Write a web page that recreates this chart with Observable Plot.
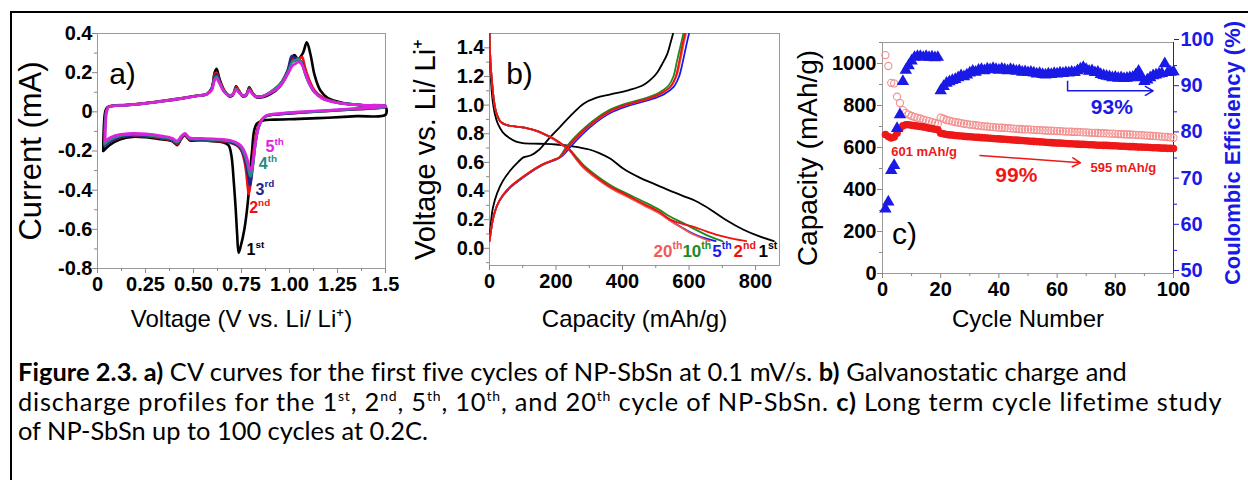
<!DOCTYPE html>
<html><head><meta charset="utf-8">
<script src="https://cdn.jsdelivr.net/npm/d3@7"></script>
<script src="https://cdn.jsdelivr.net/npm/@observablehq/plot@0.6"></script>
<style>
body{margin:0;background:#fff;}
#wrap{position:relative;width:1248px;height:480px;overflow:hidden;background:#fff;}
.panel{position:absolute;top:0;}
#border{position:absolute;left:10px;top:11px;width:1300px;height:600px;border-left:2px solid #000;border-top:2px solid #000;}
#caption{position:absolute;left:18px;top:357px;font-family:Lato,"Open Sans",sans-serif;font-size:25.4px;line-height:29.5px;white-space:nowrap;color:#000;}
#caption sup{font-size:14px;line-height:0;vertical-align:10px;}
#caption .l1{letter-spacing:0.06px;}
#caption .l2{letter-spacing:0.82px;}
</style></head>
<body>
<div id="wrap">
<div id="border"></div>
<div id="pa" class="panel" style="left:0px"></div>
<div id="pb" class="panel" style="left:400px"></div>
<div id="pc" class="panel" style="left:790px"></div>
<div id="caption"><span class="l1"><b>Figure 2.3. a)</b> CV curves for the first five cycles of NP-SbSn at 0.1 mV/s. <b>b)</b> Galvanostatic charge and</span><br><span class="l2">discharge profiles for the 1<sup>st</sup>, 2<sup>nd</sup>, 5<sup>th</sup>, 10<sup>th</sup>, and 20<sup>th</sup> cycle of NP-SbSn. <b>c)</b> Long term cycle lifetime study</span><br><span>of NP-SbSn up to 100 cycles at 0.2C.</span></div>
</div>
<script>
// ---------- Panel a: CV curves [voltage, current] ----------
const cv1 = [[0.03,-0.2],[0.032,-0.1],[0.04,0.0],[0.05,0.022],[0.08,0.03],[0.15,0.034],[0.25,0.043],[0.35,0.055],[0.45,0.07],[0.52,0.082],[0.57,0.09],[0.595,0.12],[0.61,0.2],[0.62,0.22],[0.635,0.17],[0.66,0.11],[0.685,0.08],[0.705,0.085],[0.722,0.13],[0.735,0.11],[0.755,0.08],[0.775,0.085],[0.79,0.125],[0.805,0.1],[0.825,0.075],[0.86,0.075],[0.9,0.09],[0.95,0.13],[0.99,0.2],[1.01,0.27],[1.025,0.29],[1.045,0.27],[1.07,0.3],[1.09,0.355],[1.11,0.29],[1.13,0.19],[1.16,0.11],[1.2,0.07],[1.28,0.045],[1.38,0.032],[1.5,0.025],
 [1.5,-0.015],[1.35,-0.022],[1.2,-0.03],[1.05,-0.036],[0.92,-0.04],[0.86,-0.045],[0.83,-0.06],[0.815,-0.1],[0.805,-0.2],[0.795,-0.3],[0.785,-0.44],[0.765,-0.6],[0.745,-0.69],[0.735,-0.72],[0.727,-0.62],[0.72,-0.5],[0.71,-0.36],[0.697,-0.22],[0.682,-0.17],[0.65,-0.155],[0.6,-0.15],[0.54,-0.145],[0.48,-0.145],[0.455,-0.12],[0.435,-0.14],[0.415,-0.17],[0.39,-0.15],[0.33,-0.14],[0.25,-0.13],[0.18,-0.128],[0.12,-0.14],[0.07,-0.165],[0.03,-0.2]];
const cv2 = [[0.035,-0.17],[0.038,-0.08],[0.045,0.0],[0.055,0.025],[0.08,0.032],[0.15,0.036],[0.25,0.045],[0.35,0.058],[0.45,0.072],[0.52,0.083],[0.57,0.092],[0.595,0.12],[0.61,0.19],[0.62,0.2],[0.635,0.16],[0.66,0.11],[0.685,0.085],[0.705,0.09],[0.722,0.125],[0.735,0.11],[0.755,0.085],[0.775,0.09],[0.79,0.12],[0.805,0.1],[0.825,0.08],[0.86,0.08],[0.9,0.1],[0.95,0.14],[0.99,0.21],[1.01,0.26],[1.03,0.275],[1.05,0.27],[1.065,0.28],[1.08,0.23],[1.1,0.17],[1.13,0.11],[1.17,0.075],[1.25,0.048],[1.38,0.035],[1.5,0.03],
 [1.5,0.025],[1.35,0.014],[1.2,0.005],[1.05,-0.005],[0.95,-0.012],[0.88,-0.022],[0.855,-0.04],[0.835,-0.08],[0.82,-0.15],[0.805,-0.28],[0.795,-0.38],[0.788,-0.42],[0.782,-0.38],[0.775,-0.31],[0.765,-0.25],[0.75,-0.2],[0.73,-0.175],[0.7,-0.16],[0.65,-0.15],[0.6,-0.148],[0.54,-0.145],[0.48,-0.142],[0.455,-0.118],[0.435,-0.138],[0.415,-0.165],[0.39,-0.148],[0.33,-0.135],[0.25,-0.125],[0.18,-0.122],[0.12,-0.13],[0.07,-0.15],[0.035,-0.17]];
const cv3 = [[0.035,-0.175],[0.038,-0.08],[0.045,0.0],[0.055,0.024],[0.08,0.031],[0.15,0.035],[0.25,0.044],[0.35,0.057],[0.45,0.071],[0.52,0.082],[0.57,0.091],[0.595,0.12],[0.61,0.18],[0.62,0.19],[0.635,0.155],[0.66,0.105],[0.685,0.083],[0.705,0.088],[0.722,0.12],[0.735,0.105],[0.755,0.083],[0.775,0.088],[0.79,0.115],[0.805,0.097],[0.825,0.078],[0.86,0.08],[0.9,0.1],[0.95,0.14],[0.99,0.21],[1.012,0.285],[1.028,0.275],[1.045,0.265],[1.062,0.255],[1.08,0.2],[1.1,0.15],[1.13,0.1],[1.17,0.07],[1.25,0.047],[1.38,0.034],[1.5,0.03],
 [1.5,0.025],[1.35,0.014],[1.2,0.005],[1.05,-0.004],[0.95,-0.012],[0.88,-0.022],[0.857,-0.04],[0.838,-0.08],[0.824,-0.15],[0.81,-0.27],[0.8,-0.35],[0.795,-0.375],[0.788,-0.345],[0.778,-0.29],[0.766,-0.235],[0.75,-0.195],[0.73,-0.172],[0.7,-0.158],[0.65,-0.148],[0.6,-0.145],[0.54,-0.142],[0.48,-0.14],[0.455,-0.116],[0.435,-0.135],[0.415,-0.16],[0.39,-0.145],[0.33,-0.132],[0.25,-0.122],[0.18,-0.12],[0.12,-0.128],[0.07,-0.148],[0.035,-0.175]];
const cv4 = [[0.037,-0.165],[0.04,-0.08],[0.046,0.0],[0.056,0.024],[0.08,0.031],[0.15,0.035],[0.25,0.044],[0.35,0.057],[0.45,0.071],[0.52,0.082],[0.57,0.091],[0.595,0.115],[0.61,0.17],[0.62,0.18],[0.635,0.15],[0.66,0.105],[0.685,0.083],[0.705,0.088],[0.722,0.118],[0.735,0.103],[0.755,0.083],[0.775,0.088],[0.79,0.113],[0.805,0.096],[0.825,0.078],[0.86,0.08],[0.9,0.1],[0.95,0.14],[0.99,0.2],[1.015,0.255],[1.03,0.26],[1.045,0.27],[1.06,0.255],[1.08,0.2],[1.1,0.15],[1.13,0.1],[1.17,0.07],[1.25,0.047],[1.38,0.034],[1.5,0.03],
 [1.5,0.026],[1.35,0.016],[1.2,0.006],[1.05,-0.002],[0.95,-0.01],[0.88,-0.02],[0.858,-0.038],[0.84,-0.078],[0.825,-0.145],[0.812,-0.25],[0.803,-0.31],[0.797,-0.33],[0.79,-0.31],[0.78,-0.265],[0.767,-0.22],[0.75,-0.185],[0.73,-0.165],[0.7,-0.152],[0.65,-0.145],[0.6,-0.142],[0.54,-0.139],[0.48,-0.137],[0.455,-0.113],[0.435,-0.131],[0.415,-0.155],[0.39,-0.14],[0.33,-0.128],[0.25,-0.118],[0.18,-0.116],[0.12,-0.122],[0.07,-0.14],[0.037,-0.165]];
const cv5 = [[0.04,-0.15],[0.042,-0.07],[0.048,0.0],[0.058,0.024],[0.08,0.03],[0.15,0.034],[0.25,0.043],[0.35,0.056],[0.45,0.07],[0.52,0.081],[0.57,0.09],[0.595,0.11],[0.61,0.16],[0.62,0.17],[0.635,0.145],[0.66,0.1],[0.685,0.082],[0.705,0.087],[0.722,0.112],[0.735,0.1],[0.755,0.082],[0.775,0.086],[0.79,0.108],[0.805,0.094],[0.825,0.077],[0.86,0.078],[0.9,0.095],[0.95,0.13],[0.99,0.19],[1.015,0.235],[1.03,0.245],[1.048,0.255],[1.065,0.24],[1.085,0.19],[1.105,0.14],[1.135,0.095],[1.17,0.068],[1.25,0.046],[1.38,0.034],[1.5,0.03],
 [1.5,0.028],[1.35,0.018],[1.2,0.008],[1.05,0.0],[0.95,-0.008],[0.88,-0.018],[0.86,-0.035],[0.84,-0.075],[0.826,-0.14],[0.813,-0.23],[0.803,-0.29],[0.798,-0.3],[0.79,-0.28],[0.78,-0.24],[0.765,-0.2],[0.745,-0.17],[0.72,-0.155],[0.69,-0.145],[0.65,-0.14],[0.6,-0.138],[0.54,-0.135],[0.48,-0.132],[0.455,-0.11],[0.435,-0.126],[0.415,-0.148],[0.39,-0.135],[0.33,-0.122],[0.25,-0.112],[0.18,-0.11],[0.12,-0.115],[0.07,-0.13],[0.04,-0.15]];
const cvSeries = [
  {name: "1st", color: "#000000", data: cv1},
  {name: "2nd", color: "#ee1111", data: cv2},
  {name: "3rd", color: "#22248e", data: cv3},
  {name: "4th", color: "#2a8a80", data: cv4},
  {name: "5th", color: "#e020e0", data: cv5}
];
const cvLabels = [
  {n: "5", s: "th", v: 0.875, i: -0.18, color: "#e020e0"},
  {n: "4", s: "th", v: 0.84, i: -0.268, color: "#2a8a80"},
  {n: "3", s: "rd", v: 0.823, i: -0.396, color: "#22248e"},
  {n: "2", s: "nd", v: 0.79, i: -0.49, color: "#ee1111"},
  {n: "1", s: "st", v: 0.776, i: -0.707, color: "#000000"}
];
const xTicksA = [0, 0.25, 0.5, 0.75, 1, 1.25, 1.5];
const xLabelsA = ["0", "0.25", "0.50", "0.75", "1.00", "1.25", "1.5"];
const xMinorA = [0.125, 0.375, 0.625, 0.875, 1.125, 1.375];
const yTicksA = [-0.8, -0.6, -0.4, -0.2, 0, 0.2, 0.4];
const yLabelsA = ["-0.8", "-0.6", "-0.4", "-0.2", "0", "0.2", "0.4"];
const yMinorA = [-0.7, -0.5, -0.3, -0.1, 0.1, 0.3];

// ---------- Panel b: galvanostatic profiles [capacity, voltage] ----------
const gc1Dis = [[0,1.5],[2,1.3],[5,1.15],[10,1.02],[16,0.94],[25,0.87],[40,0.81],[60,0.77],[80,0.745],[100,0.735],[150,0.73],[200,0.725],[250,0.712],[300,0.69],[330,0.665],[364,0.625],[403,0.555],[450,0.495],[500,0.445],[535,0.41],[583,0.365],[620,0.33],[665,0.27],[710,0.2],[764,0.13],[810,0.085],[855,0.05]];
const gc1Chg = [[0,0.07],[3,0.15],[10,0.28],[23,0.385],[40,0.47],[63,0.545],[85,0.6],[102,0.635],[125,0.65],[150,0.69],[180,0.77],[213,0.85],[250,0.94],[283,1.01],[320,1.05],[364,1.075],[420,1.105],[463,1.14],[490,1.19],[505,1.23],[520,1.29],[535,1.36],[545,1.44],[552,1.5]];
const gc2Dis = [[0,1.5],[3,1.3],[8,1.15],[14,1.02],[20,0.95],[33,0.885],[50,0.862],[80,0.85],[114,0.838],[140,0.822],[163,0.8],[190,0.77],[213,0.735],[240,0.69],[264,0.62],[283,0.57],[320,0.5],[364,0.43],[410,0.375],[464,0.31],[510,0.255],[544,0.2],[580,0.17],[614,0.15],[650,0.12],[690,0.09],[730,0.068],[772,0.05]];
const gc2Chg = [[0,0.05],[3,0.1],[10,0.2],[23,0.3],[40,0.37],[63,0.43],[90,0.48],[114,0.52],[140,0.56],[163,0.59],[190,0.615],[210,0.635],[222,0.665],[234,0.705],[260,0.77],[294,0.845],[330,0.91],[364,0.96],[415,1.005],[470,1.04],[514,1.08],[544,1.13],[560,1.2],[570,1.3],[580,1.42],[588,1.5]];
const gc5Dis = [[0,1.5],[3,1.3],[8,1.15],[14,1.02],[20,0.95],[33,0.885],[50,0.862],[80,0.85],[114,0.838],[140,0.82],[163,0.797],[190,0.765],[213,0.73],[240,0.685],[264,0.615],[283,0.565],[320,0.495],[364,0.425],[410,0.37],[464,0.305],[510,0.25],[544,0.195],[575,0.15],[605,0.11],[635,0.08],[660,0.062],[680,0.05]];
const gc5Chg = [[0,0.05],[3,0.1],[10,0.2],[23,0.3],[40,0.365],[63,0.425],[90,0.475],[114,0.515],[140,0.555],[163,0.585],[190,0.61],[210,0.63],[225,0.66],[240,0.7],[268,0.77],[302,0.845],[338,0.91],[372,0.955],[423,1.0],[478,1.035],[524,1.075],[553,1.125],[570,1.2],[581,1.3],[592,1.42],[600,1.5]];
const gc10Dis = [[0,1.5],[3,1.3],[8,1.15],[14,1.02],[20,0.95],[33,0.885],[50,0.862],[80,0.85],[114,0.838],[140,0.822],[163,0.8],[190,0.77],[213,0.735],[240,0.692],[264,0.63],[283,0.58],[320,0.51],[364,0.44],[410,0.385],[464,0.325],[510,0.27],[544,0.22],[580,0.18],[620,0.13],[660,0.085],[700,0.05]];
const gc10Chg = [[0,0.05],[3,0.1],[10,0.2],[23,0.3],[40,0.37],[63,0.43],[90,0.48],[114,0.52],[140,0.56],[163,0.59],[190,0.615],[210,0.637],[220,0.668],[231,0.708],[256,0.775],[290,0.85],[326,0.915],[360,0.965],[410,1.01],[465,1.045],[508,1.085],[538,1.135],[553,1.2],[563,1.3],[575,1.42],[583,1.5]];
const gc20Dis = [[0,1.5],[3,1.3],[8,1.15],[14,1.02],[20,0.95],[33,0.885],[50,0.862],[80,0.85],[114,0.838],[140,0.82],[163,0.798],[190,0.766],[213,0.73],[240,0.685],[264,0.612],[283,0.56],[320,0.49],[364,0.42],[410,0.365],[464,0.3],[510,0.245],[544,0.19],[580,0.14],[610,0.1],[640,0.07],[662,0.05]];
const gc20Chg = [[0,0.05],[3,0.1],[10,0.2],[23,0.3],[40,0.37],[63,0.43],[90,0.48],[114,0.52],[140,0.56],[163,0.59],[190,0.615],[210,0.635],[223,0.665],[235,0.705],[262,0.77],[296,0.845],[332,0.91],[366,0.96],[417,1.005],[472,1.04],[516,1.08],[546,1.13],[562,1.2],[573,1.3],[583,1.42],[591,1.5]];
const gcSeries = [
  {name: "1st", color: "#000000", dis: gc1Dis, chg: gc1Chg},
  {name: "5th", color: "#1a1aee", dis: gc5Dis, chg: gc5Chg},
  {name: "10th", color: "#1e8a1e", dis: gc10Dis, chg: gc10Chg},
  {name: "20th", color: "#f25a4a", dis: gc20Dis, chg: gc20Chg},
  {name: "2nd", color: "#ee1111", dis: gc2Dis, chg: gc2Chg}
];
const gcLabels = [
  {n: "20", s: "th", cap: 493, v: -0.02, color: "#f25a5a"},
  {n: "10", s: "th", cap: 580, v: -0.02, color: "#1e8a1e"},
  {n: "5", s: "th", cap: 670, v: -0.02, color: "#1a1aee"},
  {n: "2", s: "nd", cap: 734, v: -0.02, color: "#ee1111"},
  {n: "1", s: "st", cap: 809, v: -0.02, color: "#000000"}
];
const xTicksB = [0, 200, 400, 600, 800];
const xMinorB = [100, 300, 500, 700];
const yTicksB = [0, 0.2, 0.4, 0.6, 0.8, 1.0, 1.2, 1.4];
const yLabelsB = ["0.0", "0.2", "0.4", "0.6", "0.8", "1.0", "1.2", "1.4"];
const yMinorB = [-0.1, 0.1, 0.3, 0.5, 0.7, 0.9, 1.1, 1.3];

// ---------- Panel c: cycling (cycle 1..100) ----------
const capOpen = [1040,988,908,905,842,812,778,765,757,750,746,741,738,733,729,726,721,717,713,742,737,731,728,724,721,719,716,713,711,709,708,706,704,702,701,700,698,697,696,695,694,693,692,691,690,689,688,687,686,686,685,684,683,683,682,681,680,680,679,678,678,677,676,676,675,674,674,673,672,672,671,670,670,669,668,668,667,666,666,665,664,664,663,662,662,661,660,659,659,658,657,656,655,654,653,652,651,650,648,646];
const capFill = [662,652,645,650,668,690,703,708,708,706,704,702,700,698,695,692,690,687,684,668,665,662,660,659,657,656,655,653,652,651,650,649,648,647,646,645,644,643,642,641,640,639,638,637,636,635,634,633,632,631,630,629,628,627,626,625,624,623,622,621,621,620,619,618,618,617,616,615,615,614,613,613,612,611,611,610,610,609,608,608,607,606,606,605,604,604,603,602,602,601,601,600,599,599,598,597,597,596,596,595];
const ceff = [64,65.5,72.3,73.4,81.4,84.4,91.6,94,95,96,96.8,97,97,96.8,97,96.8,96.9,96.7,96.8,89.6,90.5,91.2,91.5,91.8,92,92.4,92.8,92.6,93,93.4,93.8,93.6,94,94.2,93.9,94.3,94.1,94.4,94.2,94,94.3,94.1,93.9,94.2,94,93.8,93.9,93.6,93.7,93.5,93.6,93.4,93.2,93.3,93.1,93,93.2,93.1,93.3,93.2,93.4,93.3,93.5,93.4,93.6,93.5,93.9,94.3,94.6,94.2,93.8,93.9,93.5,93.6,93.1,92.9,92.7,92.6,92.4,92.5,92.3,92.4,92.2,92.3,92.4,92.5,93,93.8,92.4,91.6,91.9,92.4,92.8,93,93.2,93.3,95.4,93.5,93.6,93.7];
const cycles = capOpen.map((_, k) => k + 1);
const xTicksC = [0, 20, 40, 60, 80, 100];
const xMinorC = [10, 30, 50, 70, 90];
const yTicksC = [0, 200, 400, 600, 800, 1000];
const yMinorC = [100, 300, 500, 700, 900, 1100];
const ceTicks = [50, 60, 70, 80, 90, 100];
const ceMinor = [55, 65, 75, 85, 95];
const capMax = 1100;                 // left axis top
const ceMin = 50, ceMax = 100;       // right axis range
const toCap = ce => (ce - ceMin) / (ceMax - ceMin) * capMax;
const redArrow = [{c1: 33.5, y1: 562, c2: 68, y2: 527}];
const blueBracketV = [{c1: 63.6, y1: 918, c2: 63.6, y2: 870}];
const blueArrow = [{c1: 63.6, y1: 870, c2: 93, y2: 870}];

const FONT = "'Liberation Sans', Arial, Helvetica, sans-serif";
const svgNS = "http://www.w3.org/2000/svg";
function supify(svg, sz) {
  svg.querySelectorAll("g.ord text").forEach(t => {
    const parts = t.textContent.split("|");
    t.textContent = parts[0];
    const ts = document.createElementNS(svgNS, "tspan");
    ts.setAttribute("dy", -sz * 0.45);
    ts.setAttribute("font-size", sz * 0.62);
    ts.textContent = parts[1];
    t.appendChild(ts);
  });
}
const pick = (ticks, labels) => d => labels[ticks.indexOf(d)];
const baseStyle = {fontFamily: FONT, background: "transparent", color: "#000", overflow: "visible"};

// ---------- Panel a ----------
const plotA = Plot.plot({
  width: 400, height: 345, marginLeft: 97, marginRight: 15, marginTop: 33, marginBottom: 77,
  style: baseStyle,
  x: {domain: [0, 1.5], label: null},
  y: {domain: [-0.8, 0.4], label: null},
  marks: [
    Plot.frame({stroke: "#9a9a9a"}),
    Plot.axisX(xMinorA, {tickSize: 3, tickFormat: () => "", stroke: "#888"}),
    Plot.axisX(xTicksA, {tickSize: 5, tickPadding: 3, tickFormat: pick(xTicksA, xLabelsA), fontSize: 20, fontWeight: "bold", stroke: "#888", label: null}),
    Plot.axisY(yMinorA, {tickSize: 3, tickFormat: () => "", stroke: "#888"}),
    Plot.axisY(yTicksA, {tickSize: 5, tickPadding: 0, tickFormat: pick(yTicksA, yLabelsA), fontSize: 20, fontWeight: "bold", stroke: "#888", label: null}),
    ...cvSeries.map(s => Plot.line(s.data, {x: d => d[0], y: d => d[1], stroke: s.color, strokeWidth: 2.6, curve: "catmull-rom"})),
    Plot.text(cvLabels, {x: "v", y: "i", text: d => d.n + "|" + d.s, fill: "color", fontSize: 16, fontWeight: "bold", textAnchor: "start", className: "ord"}),
    Plot.text(["a)"], {frameAnchor: "top-left", dx: 25, dy: 29, fontSize: 30, textAnchor: "middle", text: d => d}),
    Plot.text(["Voltage (V vs. Li/ Li⁺)"], {frameAnchor: "bottom", dy: 58, fontSize: 24, textAnchor: "middle", text: d => d}),
    Plot.text(["Current (mA)"], {frameAnchor: "left", dx: -66, rotate: -90, fontSize: 31, textAnchor: "middle", text: d => d})
  ]
});
supify(plotA, 16);
document.getElementById("pa").appendChild(plotA);

// ---------- Panel b ----------
const plotB = Plot.plot({
  width: 400, height: 345, marginLeft: 89, marginRight: 21, marginTop: 33, marginBottom: 80,
  style: baseStyle,
  x: {domain: [0, 872], label: null},
  y: {domain: [-0.12, 1.5], label: null},
  marks: [
    Plot.frame({stroke: "#9a9a9a"}),
    Plot.axisX(xMinorB, {tickSize: 3, tickFormat: () => "", stroke: "#888"}),
    Plot.axisX(xTicksB, {tickSize: 5, tickPadding: 3, tickFormat: d => String(d), fontSize: 20, fontWeight: "bold", stroke: "#888", label: null}),
    Plot.axisY(yMinorB, {tickSize: 3, tickFormat: () => "", stroke: "#888"}),
    Plot.axisY(yTicksB, {tickSize: 5, tickPadding: 0, tickFormat: pick(yTicksB, yLabelsB), fontSize: 20, fontWeight: "bold", stroke: "#888", label: null}),
    ...gcSeries.flatMap(s => [
      Plot.line(s.dis, {x: d => d[0], y: d => d[1], stroke: s.color, strokeWidth: 1.8, curve: "catmull-rom", clip: true}),
      Plot.line(s.chg, {x: d => d[0], y: d => d[1], stroke: s.color, strokeWidth: 1.8, curve: "catmull-rom", clip: true})
    ]),
    Plot.text(gcLabels, {x: "cap", y: "v", text: d => d.n + "|" + d.s, fill: "color", fontSize: 17, fontWeight: "bold", textAnchor: "start", className: "ord"}),
    Plot.text(["b)"], {frameAnchor: "top-left", dx: 30, dy: 29, fontSize: 30, textAnchor: "middle", text: d => d}),
    Plot.text(["Capacity (mAh/g)"], {frameAnchor: "bottom", dy: 61, fontSize: 24, textAnchor: "middle", text: d => d}),
    Plot.text(["Voltage vs. Li/ Li⁺"], {frameAnchor: "left", dx: -64, rotate: -90, fontSize: 29, textAnchor: "middle", text: d => d})
  ]
});
supify(plotB, 17);
document.getElementById("pb").appendChild(plotB);

// ---------- Panel c ----------
const cyc = cycles.map((c, k) => ({cycle: c, open: capOpen[k], fill: capFill[k], ce: ceff[k]}));
const BLUE = "#1a1ae6", RED = "#ee1818";
const plotC = Plot.plot({
  width: 458, height: 345, marginLeft: 92, marginRight: 75, marginTop: 42, marginBottom: 72,
  style: baseStyle,
  x: {domain: [0, 100], label: null},
  y: {domain: [0, capMax], label: null},
  marks: [
    Plot.frame({stroke: "#9a9a9a"}),
    Plot.ruleX([100], {stroke: BLUE, strokeWidth: 1}),
    Plot.axisX(xMinorC, {tickSize: 3, tickFormat: () => "", stroke: "#888"}),
    Plot.axisX(xTicksC, {tickSize: 5, tickPadding: 3, tickFormat: d => String(d), fontSize: 20, fontWeight: "bold", stroke: "#888", label: null}),
    Plot.axisY(yMinorC, {tickSize: 3, tickFormat: () => "", stroke: "#888"}),
    Plot.axisY(yTicksC, {tickSize: 5, tickPadding: 1, tickFormat: d => String(d), fontSize: 20, fontWeight: "bold", stroke: "#888", label: null}),
    Plot.axisY(ceMinor.map(toCap), {anchor: "right", tickSize: 3, tickFormat: () => "", color: BLUE}),
    Plot.axisY(ceTicks.map(toCap), {anchor: "right", tickSize: 5, tickPadding: 2, dy: -3, tickFormat: d => String(Math.round(d / capMax * (ceMax - ceMin) + ceMin)), fontSize: 20, fontWeight: "bold", color: BLUE, label: null}),
    Plot.dot(cyc, {x: "cycle", y: "open", r: 3.6, stroke: "#f29090", strokeWidth: 1.1, fill: "none"}),
    Plot.dot(cyc, {x: "cycle", y: "fill", r: 3.8, fill: RED, stroke: "none"}),
    Plot.dot(cyc, {x: "cycle", y: d => toCap(d.ce), r: 4.6, symbol: "triangle", fill: BLUE, stroke: "none"}),
    Plot.arrow(redArrow, {x1: "c1", y1: "y1", x2: "c2", y2: "y2", stroke: RED, strokeWidth: 1.5, headLength: 9}),
    Plot.link(blueBracketV, {x1: "c1", y1: "y1", x2: "c2", y2: "y2", stroke: BLUE, strokeWidth: 1.5}),
    Plot.arrow(blueArrow, {x1: "c1", y1: "y1", x2: "c2", y2: "y2", stroke: BLUE, strokeWidth: 1.5, headLength: 9}),
    Plot.text([{t: "601 mAh/g", c: 3, y: 578}], {x: "c", y: "y", text: "t", fill: RED, fontSize: 13, fontWeight: "bold", textAnchor: "start"}),
    Plot.text([{t: "595 mAh/g", c: 71.5, y: 505}], {x: "c", y: "y", text: "t", fill: RED, fontSize: 13, fontWeight: "bold", textAnchor: "start"}),
    Plot.text([{t: "99%", c: 46, y: 467}], {x: "c", y: "y", text: "t", fill: RED, fontSize: 21, fontWeight: "bold"}),
    Plot.text([{t: "93%", c: 78.8, y: 790}], {x: "c", y: "y", text: "t", fill: BLUE, fontSize: 21, fontWeight: "bold"}),
    Plot.text(["c)"], {frameAnchor: "bottom-left", dx: 22, dy: -30, fontSize: 30, textAnchor: "middle", text: d => d}),
    Plot.text(["Cycle Number"], {frameAnchor: "bottom", dy: 53, fontSize: 24, textAnchor: "middle", text: d => d}),
    Plot.text(["Capacity (mAh/g)"], {frameAnchor: "left", dx: -74, rotate: -90, fontSize: 28, textAnchor: "middle", text: d => d}),
    Plot.text(["Coulombic Efficiency (%)"], {frameAnchor: "right", dx: 59, dy: -5, rotate: -90, fontSize: 22, fontWeight: "bold", fill: BLUE, textAnchor: "middle", text: d => d})
  ]
});
document.getElementById("pc").appendChild(plotC);
</script>
</body></html>
